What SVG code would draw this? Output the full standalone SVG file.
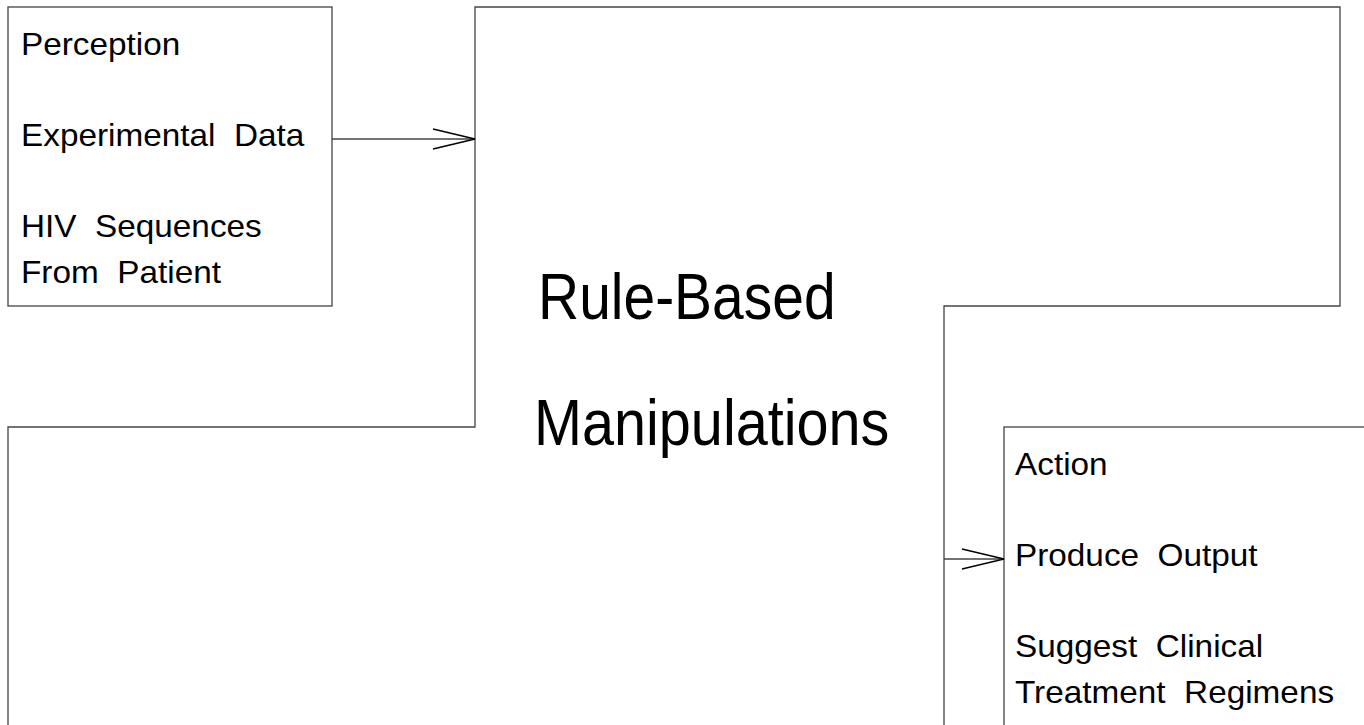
<svg xmlns="http://www.w3.org/2000/svg" width="1364" height="725" viewBox="0 0 1364 725">
  <style>
    .box { fill: none; stroke: #444; stroke-width: 1.3; }
    .conn { fill: none; stroke: #444; stroke-width: 1.3; }
    .t { font-family: "Liberation Sans", Arial, sans-serif; font-size: 31px; fill: #000; }
    .big { font-family: "Liberation Sans", Arial, sans-serif; font-size: 64px; fill: #000; }
  </style>
  <defs>
    <marker id="vee" markerUnits="userSpaceOnUse" markerWidth="50" markerHeight="30" refX="0" refY="0" viewBox="-45 -15 50 30" orient="auto" overflow="visible">
      <path d="M -42,-10 L 0,0 L -42,10" fill="none" stroke="#000" stroke-width="1.3"/>
    </marker>
  </defs>
  <rect width="1364" height="725" fill="#fff"/>
  <g id="perception">
    <rect class="box" x="8" y="7" width="324" height="299"/>
    <text class="t" transform="translate(21,55) scale(1.075,1)">Perception</text>
    <text class="t" transform="translate(21,146) scale(1.075,1)" xml:space="preserve">Experimental  Data</text>
    <text class="t" transform="translate(21,237) scale(1.075,1)" xml:space="preserve">HIV  Sequences</text>
    <text class="t" transform="translate(21,283) scale(1.075,1)" xml:space="preserve">From  Patient</text>
  </g>
  <g id="rules">
    <path class="box" d="M 8,725 L 8,427 L 475,427 L 475,7 L 1340,7 L 1340,306 L 944,306 L 944,725"/>
    <text class="big" transform="translate(538,319) scale(0.89,1)">Rule-Based</text>
    <text class="big" transform="translate(534,445) scale(0.9,1)">Manipulations</text>
  </g>
  <g id="action">
    <rect class="box" x="1004" y="427" width="420" height="400"/>
    <text class="t" transform="translate(1015,475) scale(1.075,1)">Action</text>
    <text class="t" transform="translate(1015,566) scale(1.075,1)" xml:space="preserve">Produce  Output</text>
    <text class="t" transform="translate(1015,657) scale(1.075,1)" xml:space="preserve">Suggest  Clinical</text>
    <text class="t" transform="translate(1015,703) scale(1.075,1)" xml:space="preserve">Treatment  Regimens</text>
  </g>
  <g id="connectors">
    <line class="conn" x1="332" y1="139" x2="475" y2="139" marker-end="url(#vee)"/>
    <line class="conn" x1="944" y1="559" x2="1004" y2="559" marker-end="url(#vee)"/>
  </g>
</svg>
